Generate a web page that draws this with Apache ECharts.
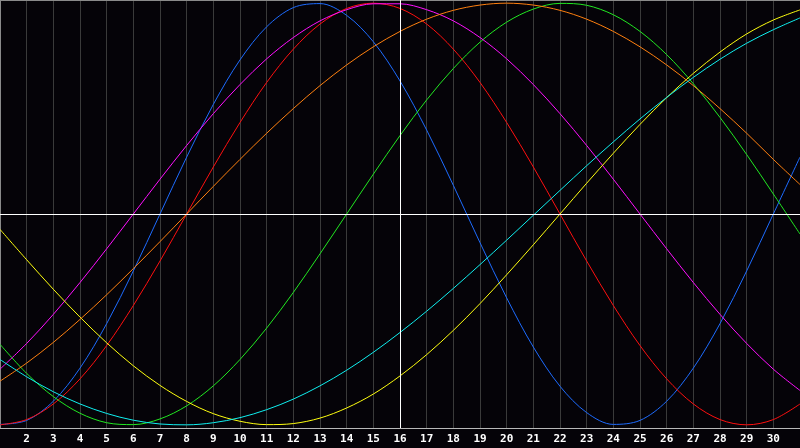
<!DOCTYPE html>
<html>
<head>
<meta charset="utf-8">
<script src="https://cdn.jsdelivr.net/npm/echarts@6/dist/echarts.min.js"></script>
<style>
html,body{margin:0;padding:0;background:#050308;}
#chart{width:800px;height:448px;}
</style>
</head>
<body>
<div id="chart"></div>
<script>
// Days of the month shown on the x axis
const days = [1,2,3,4,5,6,7,8,9,10,11,12,13,14,15,16,17,18,19,20,21,22,23,24,25,26,27,28,29,30,31];
const tickLabels = [2,3,4,5,6,7,8,9,10,11,12,13,14,15,16,17,18,19,20,21,22,23,24,25,26,27,28,29,30];
const todayDay = 16;

// Cycle values per day (-1 .. 1)
const blueCycle = [-0.998,-0.979,-0.888,-0.731,-0.520,-0.270,0.000,0.270,0.520,0.731,0.888,0.979,0.998,0.942,0.817,0.631,0.398,0.136,-0.136,-0.398,-0.631,-0.817,-0.942,-0.998,-0.979,-0.888,-0.731,-0.520,-0.270,0.000,0.270];
const redCycle = [-1.000,-0.975,-0.901,-0.782,-0.624,-0.434,-0.223,0.000,0.223,0.434,0.624,0.782,0.901,0.975,1.000,0.975,0.901,0.782,0.624,0.434,0.223,0.000,-0.223,-0.434,-0.624,-0.782,-0.901,-0.975,-1.000,-0.975,-0.901];
const greenCycle = [-0.618,-0.756,-0.866,-0.945,-0.990,-0.999,-0.972,-0.910,-0.815,-0.690,-0.541,-0.372,-0.189,0.000,0.189,0.372,0.541,0.690,0.815,0.910,0.972,0.999,0.990,0.945,0.866,0.756,0.618,0.458,0.282,0.095,-0.095];
const magentaCycle = [-0.736,-0.614,-0.476,-0.325,-0.165,0.000,0.165,0.325,0.476,0.614,0.736,0.837,0.916,0.969,0.997,0.997,0.969,0.916,0.837,0.736,0.614,0.476,0.325,0.165,0.000,-0.165,-0.325,-0.476,-0.614,-0.736,-0.837];
const yellowCycle = [-0.073,-0.217,-0.357,-0.489,-0.611,-0.720,-0.813,-0.889,-0.947,-0.983,-0.999,-0.994,-0.968,-0.920,-0.854,-0.768,-0.667,-0.552,-0.425,-0.288,-0.146,0.000,0.146,0.288,0.425,0.552,0.667,0.768,0.854,0.920,0.968];
const orangeCycle = [-0.793,-0.707,-0.609,-0.500,-0.383,-0.259,-0.131,0.000,0.131,0.259,0.383,0.500,0.609,0.707,0.793,0.866,0.924,0.966,0.991,1.000,0.991,0.966,0.924,0.866,0.793,0.707,0.609,0.500,0.383,0.259,0.140];
const cyanCycle = [-0.690,-0.772,-0.843,-0.901,-0.946,-0.978,-0.996,-1.000,-0.990,-0.966,-0.928,-0.878,-0.815,-0.741,-0.656,-0.562,-0.461,-0.353,-0.240,-0.124,-0.006,0.112,0.229,0.342,0.451,0.553,0.648,0.734,0.810,0.874,0.930];

const seriesDefs = [
  {name:'blue', values: blueCycle, color:'#1e6cff'},
  {name:'red', values: redCycle, color:'#ff1010'},
  {name:'green', values: greenCycle, color:'#22e822'},
  {name:'magenta', values: magentaCycle, color:'#ff10ff'},
  {name:'yellow', values: yellowCycle, color:'#ffff10'},
  {name:'orange', values: orangeCycle, color:'#ff8010'},
  {name:'cyan', values: cyanCycle, color:'#10f0f0'}
];

const chart = echarts.init(document.getElementById('chart'), null, {renderer:'canvas'});

const series = seriesDefs.map((s, i) => ({
  name: s.name,
  type: 'line',
  data: days.map((d, k) => [d, s.values[k]]),
  smooth: 0.33,
  showSymbol: false,
  silent: true,
  z: 3,
  lineStyle: {color: s.color, width: 1},
  itemStyle: {color: s.color}
}));

series.push({
  type: 'line',
  data: [],
  z: 5,
  markLine: {
    silent: true,
    symbol: 'none',
    animation: false,
    label: {show: false},
    lineStyle: {color: '#ffffff', width: 1, type: 'solid'},
    data: [{yAxis: 0}, {xAxis: todayDay}]
  }
});

chart.setOption({
  animation: false,
  backgroundColor: '#050308',
  grid: {left: 0, right: 0, top: 0, bottom: 20, containLabel: false},
  xAxis: [{
    type: 'value',
    min: 1,
    max: 31,
    interval: 1,
    position: 'bottom',
    axisLine: {show: true, onZero: false, lineStyle: {color: '#b8b8b8', width: 1}},
    axisTick: {show: false},
    splitLine: {show: true, lineStyle: {color: '#3a3a3a', width: 1}},
    axisLabel: {
      show: true,
      margin: 6,
      color: '#ffffff',
      fontFamily: 'DejaVu Sans Mono',
      fontWeight: 'bold',
      fontSize: 11,
      showMinLabel: false,
      showMaxLabel: false,
      formatter: v => tickLabels.indexOf(v) >= 0 ? String(v) : ''
    }
  }, {
    type: 'value',
    min: 1,
    max: 31,
    position: 'top',
    axisLine: {show: true, onZero: false, lineStyle: {color: '#8a8a8a', width: 1}},
    axisTick: {show: false},
    axisLabel: {show: false},
    splitLine: {show: false}
  }],
  yAxis: {
    type: 'value',
    min: -1.015,
    max: 1.015,
    axisLine: {show: true, onZero: false, lineStyle: {color: '#8a8a8a', width: 1}},
    axisTick: {show: false},
    axisLabel: {show: false},
    splitLine: {show: false}
  },
  series: series
});
</script>
</body>
</html>
